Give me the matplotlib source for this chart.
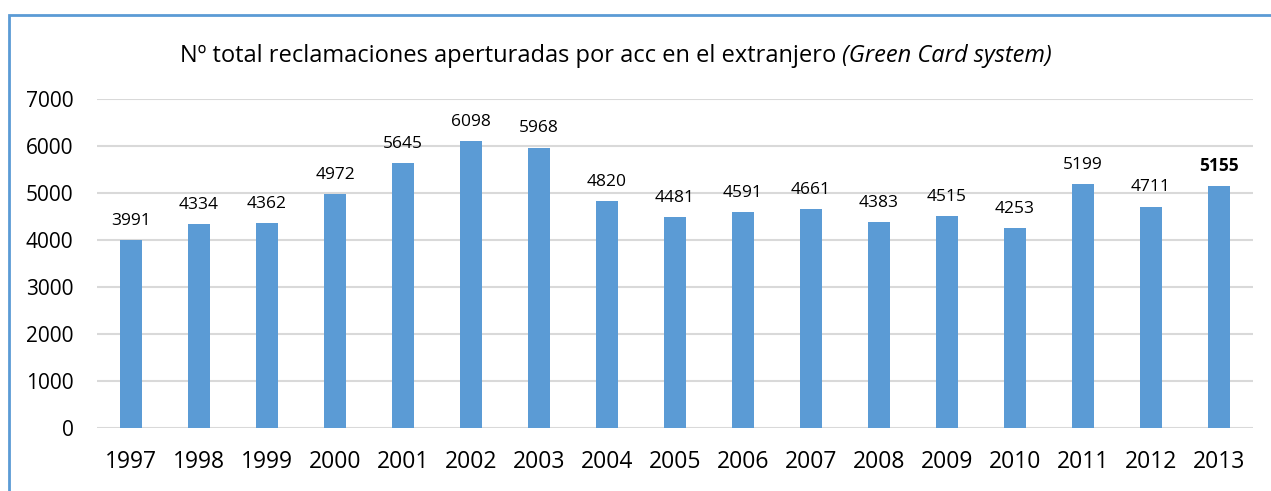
import matplotlib.pyplot as plt
from matplotlib.patches import Rectangle
import numpy as np

# data
years = ["1997", "1998", "1999", "2000", "2001", "2002", "2003", "2004", "2005",
         "2006", "2007", "2008", "2009", "2010", "2011", "2012", "2013"]
claims = [3991, 4334, 4362, 4972, 5645, 6098, 5968, 4820, 4481,
          4591, 4661, 4383, 4515, 4253, 5199, 4711, 5155]
y_ticks = [0, 1000, 2000, 3000, 4000, 5000, 6000, 7000]

bar_color = "#5B9BD5"
font = ["Open Sans", "DejaVu Sans"]
plt.rcParams["font.family"] = font

fig = plt.figure(figsize=(12.71, 4.91), dpi=100)
ax = fig.add_axes([97 / 1271, 1 - 428 / 491, (1253 - 97) / 1271, (428 - 99) / 491])

x = np.arange(len(years))
bars = ax.bar(x, claims, width=0.31, color=bar_color, zorder=3)

# value labels, last one bold
for i, (xi, v) in enumerate(zip(x, claims)):
    ax.annotate(str(v), (xi, v), xytext=(0, 8), textcoords="offset points",
                ha="center", va="bottom", fontsize=12.5,
                fontweight="bold" if i == len(claims) - 1 else "normal")

ax.set_xlim(-0.5, len(years) - 0.5)
ax.set_ylim(0, 7000)
ax.set_yticks(y_ticks)
ax.set_xticks(x, years)
ax.tick_params(axis="x", length=0, labelsize=16.5, pad=16)
ax.tick_params(axis="y", length=0, labelsize=15, pad=17)
ax.grid(axis="y", color="#D9D9D9", linewidth=1.5, zorder=0)
for s in ax.spines.values():
    s.set_visible(False)

# title: regular part + italic part
t1 = fig.text(180 / 1271, 1 - 56 / 491, "Nº total reclamaciones aperturadas por acc en el extranjero ",
              fontsize=17, ha="left", va="center")
fig.canvas.draw()
ax.annotate("(Green Card system)", xy=(1, 0), xycoords=t1, va="bottom", ha="left",
            fontsize=17, fontstyle="italic", annotation_clip=False)

# outer frame of the chart box
fig.patches.append(Rectangle((8.5 / 1271, -0.1), 1.2, 1.1 - 14.5 / 491,
                             transform=fig.transFigure, fill=False,
                             edgecolor=bar_color, linewidth=2))

fig.savefig("out.png", dpi=100)
